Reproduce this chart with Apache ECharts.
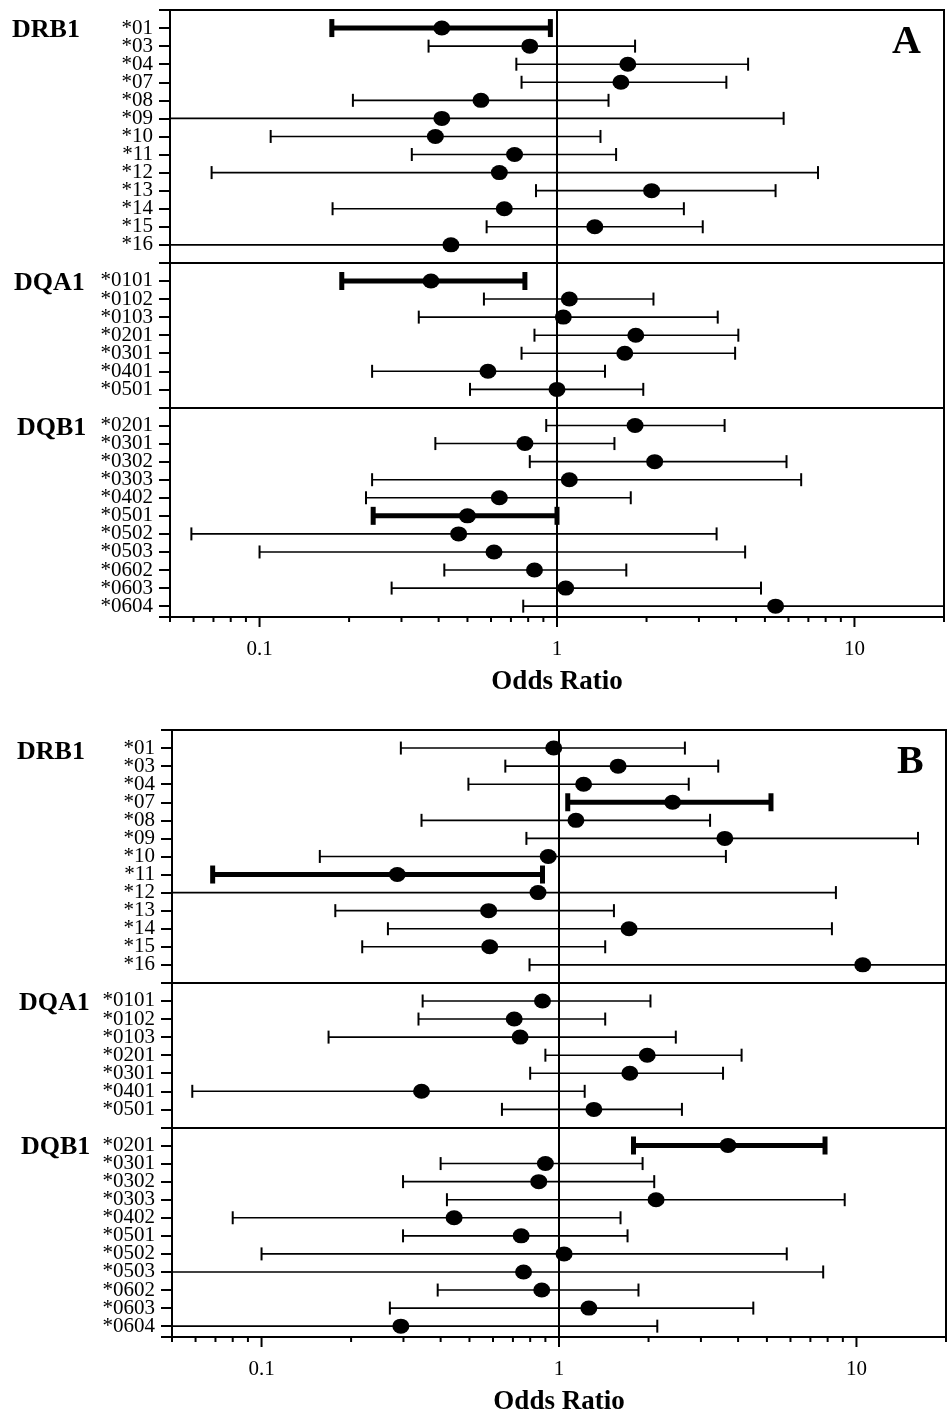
<!DOCTYPE html>
<html>
<head>
<meta charset="utf-8">
<title>HLA allele odds ratios</title>
<script src="https://cdn.jsdelivr.net/npm/echarts@6.0.0/dist/echarts.min.js"></script>
<style>
  html, body { margin: 0; padding: 0; background: #fff; }
  #chartBox { width: 950px; height: 1411px; }
</style>
</head>
<body>
<div id="chartBox"></div>
<script>
// alleles per locus, top to bottom
let drb1 = ['*01', '*03', '*04', '*07', '*08', '*09', '*10', '*11', '*12', '*13', '*14', '*15', '*16'];
let dqa1 = ['*0101', '*0102', '*0103', '*0201', '*0301', '*0401', '*0501'];
let dqb1 = ['*0201', '*0301', '*0302', '*0303', '*0402', '*0501', '*0502', '*0503', '*0602', '*0603', '*0604'];

// panel A (DRB1, then DQA1, then DQB1). CI ends past 0.05 / 20 are off the axis and get clipped
let orA   = [0.41, 0.81, 1.73, 1.64, 0.555, 0.41, 0.39, 0.72, 0.64, 2.08, 0.665, 1.34, 0.44,
             0.377, 1.10, 1.05, 1.84, 1.69, 0.586, 1.0,
             1.83, 0.78, 2.13, 1.10, 0.64, 0.50, 0.467, 0.614, 0.84, 1.07, 5.43];
let lowA  = [0.175, 0.37, 0.73, 0.76, 0.206, 0.03, 0.109, 0.325, 0.069, 0.85, 0.176, 0.58, 0.03,
             0.189, 0.568, 0.343, 0.84, 0.76, 0.239, 0.51,
             0.92, 0.39, 0.81, 0.239, 0.228, 0.241, 0.059, 0.10, 0.418, 0.278, 0.77];
let highA = [0.95, 1.83, 4.39, 3.71, 1.49, 5.78, 1.40, 1.58, 7.54, 5.43, 2.67, 3.09, 30,
             0.78, 2.11, 3.47, 4.07, 3.97, 1.45, 1.95,
             3.66, 1.56, 5.91, 6.62, 1.77, 1.0, 3.44, 4.29, 1.71, 4.85, 30];
let sigA  = ['DRB1*01', 'DQA1*0101', 'DQB1*0501'];

// panel B
let orB   = [0.96, 1.58, 1.21, 2.41, 1.14, 3.61, 0.92, 0.286, 0.85, 0.58, 1.72, 0.585, 10.5,
             0.88, 0.707, 0.74, 1.98, 1.73, 0.345, 1.31,
             3.70, 0.90, 0.855, 2.12, 0.444, 0.746, 1.04, 0.76, 0.875, 1.26, 0.294];
let lowB  = [0.294, 0.66, 0.496, 1.07, 0.345, 0.777, 0.157, 0.0685, 0.03, 0.177, 0.266, 0.218, 0.796,
             0.348, 0.337, 0.168, 0.90, 0.80, 0.0585, 0.643,
             1.78, 0.40, 0.299, 0.42, 0.080, 0.299, 0.10, 0.03, 0.391, 0.27, 0.03];
let highB = [2.65, 3.43, 2.73, 5.16, 3.22, 16.1, 3.64, 0.88, 8.53, 1.53, 8.27, 1.43, 30,
             2.03, 1.43, 2.47, 4.11, 3.56, 1.22, 2.59,
             7.84, 1.91, 2.09, 9.13, 1.61, 1.70, 5.83, 7.73, 1.85, 4.5, 2.14];
let sigB  = ['DRB1*07', 'DRB1*11', 'DQB1*0201'];

let majorTicks = [0.1, 1, 10];
let minorTicks = [0.05, 0.06, 0.07, 0.08, 0.09, 0.2, 0.3, 0.4, 0.5, 0.6, 0.7, 0.8, 0.9,
                  2, 3, 4, 5, 6, 7, 8, 9, 20];

// row slots: one empty slot between loci, that is where the separator line goes
let loci = [['DRB1', drb1], ['DQA1', dqa1], ['DQB1', dqb1]];
let rows = [];
let separators = [];
let slot = 0;
loci.forEach(function (l, k) {
  l[1].forEach(function (name) {
    rows.push({gene: l[0], name: name, pos: slot});
    slot++;
  });
  if (k < loci.length - 1) {
    separators.push(slot);
    slot++;
  }
});
let rowLabel = {};
rows.forEach(function (r) { rowLabel[r.pos] = r.name; });

let serif = '"Liberation Serif", "DejaVu Serif", serif';

function barData(low, high, sig) {
  return rows.map(function (r, i) {
    return [r.pos, low[i], high[i], sig.indexOf(r.gene + r.name) >= 0 ? 1 : 0];
  });
}
function pointData(or) {
  return rows.map(function (r, i) { return [or[i], r.pos]; });
}

function drawBar(params, api) {
  let cs = params.coordSys;
  let y = api.value(0);
  let pl = api.coord([api.value(1), y]);
  let ph = api.coord([api.value(2), y]);
  let thick = api.value(3) === 1;
  let right = cs.x + cs.width;
  let lw = thick ? 5 : 1.6;
  let capH = thick ? 18 : 13;
  let capW = thick ? 5 : 2;
  let kids = [{
    type: 'line',
    shape: {x1: Math.max(pl[0], cs.x), y1: pl[1], x2: Math.min(ph[0], right), y2: pl[1]},
    style: {stroke: '#000', lineWidth: lw}
  }];
  [pl[0], ph[0]].forEach(function (x) {
    if (x >= cs.x - 0.5 && x <= right + 0.5) {
      kids.push({
        type: 'line',
        shape: {x1: x, y1: pl[1] - capH / 2, x2: x, y2: pl[1] + capH / 2},
        style: {stroke: '#000', lineWidth: capW}
      });
    }
  });
  return {type: 'group', children: kids};
}

function drawTick(params, api) {
  let cs = params.coordSys;
  let x = api.coord([api.value(0), 0])[0];
  let y0 = cs.y + cs.height;
  let len = api.value(2) ? 10 : 5;
  return {type: 'line', shape: {x1: x, y1: y0, x2: x, y2: y0 + len}, style: {stroke: '#000', lineWidth: 2}};
}

let tickData = majorTicks.map(function (v) { return [v, 0, 1]; })
  .concat(minorTicks.map(function (v) { return [v, 0, 0]; }));

function xAxisFor(k) {
  return {
    type: 'log', logBase: 10, gridIndex: k, min: 0.05, max: 20,
    axisLine: {onZero: false, lineStyle: {color: '#000', width: 2}},
    axisTick: {show: false},
    splitLine: {show: false},
    axisLabel: {
      color: '#000', fontFamily: serif, fontSize: 21, margin: 22,
      showMinLabel: false, showMaxLabel: false,
      formatter: function (v) {
        let e = Math.log10(v);
        return Math.abs(e - Math.round(e)) < 1e-6 ? String(v) : '';
      }
    },
    name: 'Odds Ratio', nameLocation: 'middle', nameGap: 52,
    nameTextStyle: {color: '#000', fontFamily: serif, fontSize: 27, fontWeight: 'bold'}
  };
}

function yAxisFor(k) {
  return {
    type: 'value', gridIndex: k, inverse: true, min: -1, max: 32.6, interval: 1,
    axisLine: {onZero: false, lineStyle: {color: '#000', width: 2}},
    axisTick: {length: 11, lineStyle: {color: '#000', width: 2}},
    splitLine: {show: false},
    axisLabel: {
      color: '#000', fontFamily: serif, fontSize: 21, margin: 17,
      formatter: function (v) { return rowLabel[v] || ''; }
    }
  };
}

function panelSeries(k, or, low, high, sig) {
  return [
    {
      type: 'custom', xAxisIndex: k, yAxisIndex: k,
      renderItem: drawBar, encode: {x: [1, 2], y: 0},
      data: barData(low, high, sig), z: 3
    },
    {
      type: 'scatter', xAxisIndex: k, yAxisIndex: k,
      symbol: 'circle', symbolSize: [17, 15],
      itemStyle: {color: '#000', opacity: 1},
      data: pointData(or), z: 4,
      markLine: {
        silent: true, symbol: ['none', 'none'],
        label: {show: false},
        lineStyle: {color: '#000', width: 2, type: 'solid'},
        data: [{xAxis: 1}].concat(separators.map(function (s) { return {yAxis: s}; }))
      }
    },
    {
      type: 'custom', xAxisIndex: k, yAxisIndex: k,
      renderItem: drawTick, encode: {x: 0, y: 1},
      data: tickData, silent: true
    }
  ];
}

function label(text, x, y, size) {
  return {
    type: 'text', silent: true,
    style: {
      text: text, x: x, y: y, fill: '#000',
      font: 'bold ' + size + 'px ' + serif,
      textAlign: 'left', textVerticalAlign: 'middle'
    }
  };
}

let myChart = echarts.init(document.getElementById('chartBox'));
let option = {
  backgroundColor: '#fff',
  animation: false,
  grid: [
    {left: 170, top: 10, width: 774, height: 607, show: true, borderColor: '#000', borderWidth: 2, outerBoundsMode: 'none'},
    {left: 172, top: 730, width: 774, height: 607, show: true, borderColor: '#000', borderWidth: 2, outerBoundsMode: 'none'}
  ],
  xAxis: [xAxisFor(0), xAxisFor(1)],
  yAxis: [yAxisFor(0), yAxisFor(1)],
  series: panelSeries(0, orA, lowA, highA, sigA).concat(panelSeries(1, orB, lowB, highB, sigB)),
  graphic: [
    label('DRB1', 12, 30, 26),
    label('DQA1', 14, 283, 26),
    label('DQB1', 17, 428, 26),
    label('A', 892, 43, 40),
    label('DRB1', 17, 752, 26),
    label('DQA1', 19, 1003, 26),
    label('DQB1', 21, 1147, 26),
    label('B', 897, 763, 40)
  ]
};
myChart.setOption(option);
</script>
</body>
</html>
